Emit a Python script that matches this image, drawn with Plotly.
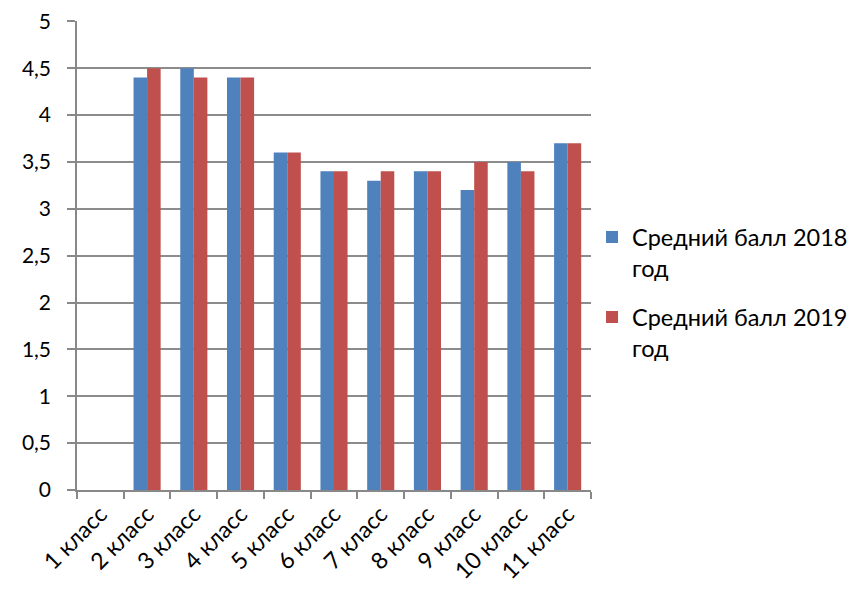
import plotly.graph_objects as go

categories = ["1 класс", "2 класс", "3 класс", "4 класс", "5 класс", "6 класс",
              "7 класс", "8 класс", "9 класс", "10 класс", "11 класс"]
score_2018 = [None, 4.4, 4.5, 4.4, 3.6, 3.4, 3.3, 3.4, 3.2, 3.5, 3.7]
score_2019 = [None, 4.5, 4.4, 4.4, 3.6, 3.4, 3.4, 3.4, 3.5, 3.4, 3.7]
series_names = ["Средний балл 2018<br>год", "Средний балл 2019<br>год"]
y_ticks = [0, 0.5, 1, 1.5, 2, 2.5, 3, 3.5, 4, 4.5, 5]
y_tick_labels = ["0", "0,5", "1", "1,5", "2", "2,5", "3", "3,5", "4", "4,5", "5"]

FONT = "Lato, 'Noto Sans', sans-serif"

fig = go.Figure()
fig.add_trace(go.Bar(x=categories, y=score_2018, name=series_names[0], legendgroup="g2018",
                     marker=dict(color="#4F81BD", line=dict(width=0))))
fig.add_trace(go.Bar(x=categories, y=score_2019, name=series_names[1], legendgroup="g2019",
                     marker=dict(color="#C0504D", line=dict(width=0))))

fig.update_layout(
    width=857, height=591,
    margin=dict(l=69, r=270, t=13, b=109),
    paper_bgcolor="white", plot_bgcolor="white",
    barmode="group", bargap=0.42, bargroupgap=0,
    font=dict(family=FONT, size=22, color="black"),
    showlegend=True,
    legend=dict(x=1.002, y=0.586, xanchor="left", yanchor="top", valign="top",
                font=dict(family=FONT, size=23.5), tracegroupgap=16,
                itemsizing="constant"),
)
fig.update_xaxes(
    type="category", tickangle=-45, showline=True, linecolor="#888888", linewidth=1.5,
    ticks="outside", tickson="boundaries", ticklen=7, tickcolor="#888888", tickwidth=1.5,
    showgrid=False, tickfont=dict(family=FONT, size=23), automargin=False,
    ticklabeloverflow="allow",
)
fig.update_yaxes(
    range=[0, 5.004], tickvals=y_ticks, ticktext=y_tick_labels,
    showline=True, linecolor="#888888", linewidth=1.5,
    ticks="outside", ticklen=8, tickcolor="#888888", tickwidth=1.5,
    showgrid=True, gridcolor="#8c8c8c", gridwidth=1.5,
    zeroline=False, tickfont=dict(family=FONT, size=21), ticklabelstandoff=12,
    automargin=False, ticklabeloverflow="allow",
)

fig.write_html("out.html")
